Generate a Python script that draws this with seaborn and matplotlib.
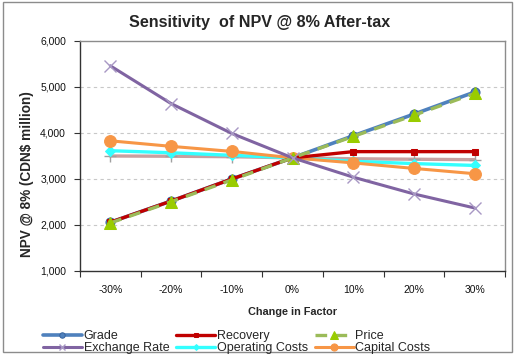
import matplotlib
matplotlib.use("Agg")
import matplotlib.pyplot as plt
import matplotlib.patches as mpatches
from matplotlib.ticker import FuncFormatter, FixedLocator
import seaborn as sns
import pandas as pd

sns.set_theme(style="white")
plt.rcParams['font.family'] = ['Liberation Sans', 'DejaVu Sans']

factors = ["-30%", "-20%", "-10%", "0%", "10%", "20%", "30%"]
grade = [2060, 2520, 3000, 3460, 3940, 4410, 4890]
recovery = [2060, 2520, 3000, 3460, 3595, 3595, 3595]
price = [2045, 2505, 2980, 3460, 3925, 4385, 4860]
exchange_rate = [5460, 4640, 3990, 3460, 3040, 2675, 2370]
operating_costs = [3615, 3570, 3515, 3460, 3385, 3335, 3295]
capital_costs = [3830, 3710, 3600, 3460, 3350, 3230, 3115]
other = [3500, 3495, 3485, 3460, 3440, 3430, 3420]

fig = plt.figure(figsize=(5.2, 3.56), dpi=100)
ax = fig.add_axes([80/520, 1-271/356, 425/520, 230/356])

series = [
    ("Grade", grade, dict(color="#4f81bd", lw=2.6, marker="o", ms=6.5, mfc="#4f81bd", mec="#3a66a0", zorder=3)),
    ("Recovery", recovery, dict(color="#c00000", lw=2.4, marker="s", ms=5, mfc="#c00000", mec="#c00000", zorder=4)),
    ("Price", price, dict(color="#9bbb59", lw=2.4, marker="^", ms=8.5, mfc="#99cc00", mec="#99cc00", dashes=(3.5, 2.5), zorder=5)),
    ("Exchange Rate", exchange_rate, dict(color="#8064a2", lw=2.2, marker="x", ms=8, mec="#a898c4", mew=1.0, zorder=6)),
    ("Operating Costs", operating_costs, dict(color="#33ffff", lw=2.4, marker="D", ms=5, mfc="#33ffff", mec="#33ffff", zorder=3)),
    ("Capital Costs", capital_costs, dict(color="#f79646", lw=2.2, marker="o", ms=8.5, mfc="#f79646", mec="#f79646", zorder=3)),
    ("_other", other, dict(color="#c9a0a0", lw=2.4, marker="+", ms=8, mec="#a0a0a0", mew=1.0, zorder=2)),
]

lines = {}
for name, vals, kw in series:
    df = pd.DataFrame({"factor": factors, "npv": vals})
    n_before = len(ax.lines)
    sns.lineplot(data=df, x="factor", y="npv", ax=ax, sort=False, label=name,
                 legend=False, **kw)
    lines[name] = ax.lines[n_before]

ax.set_xlim(-0.5, 6.5)
ax.set_ylim(1000, 6000)
ax.set_yticks([1000, 2000, 3000, 4000, 5000, 6000])
ax.yaxis.set_major_formatter(FuncFormatter(lambda v, p: f"{int(v):,}"))
ax.set_xticks(range(7))
ax.set_xticklabels(factors)
ax.xaxis.set_minor_locator(FixedLocator([i - 0.5 for i in range(8)]))
ax.tick_params(axis="x", which="major", length=0, labelsize=7.5, pad=10, colors="#111111")
ax.tick_params(axis="x", which="minor", length=4, width=0.8, color="#333333", direction="out", bottom=True)
ax.tick_params(axis="y", which="major", length=4, width=0.8, color="#333333", direction="out",
               left=True, labelsize=7.5, pad=6, labelcolor="#111111")

for y in [2000, 3000, 4000, 5000]:
    ax.axhline(y, color="#c8c8c8", lw=0.8, ls=(0, (3, 3)), zorder=0)

ax.spines["left"].set_color("#333333")
ax.spines["bottom"].set_color("#333333")
ax.spines["top"].set_color("#8c8c8c")
ax.spines["right"].set_color("#8c8c8c")
for s in ax.spines.values():
    s.set_linewidth(1.0)

ax.set_xlabel("Change in Factor", fontsize=7.8, fontweight="bold", labelpad=9)
ax.set_ylabel("NPV @ 8% (CDN$ million)", fontsize=9.8, fontweight="bold")
ax.yaxis.set_label_coords((34 - 80) / 425, (271 - 174) / 230)

fig.text(0.5, 1-22/356, "Sensitivity  of NPV @ 8% After-tax", ha="center", va="center",
         fontsize=11.6, fontweight="bold")

order = ["Grade", "Exchange Rate", "Recovery", "Operating Costs", "Price", "Capital Costs"]
handles = [lines[n] for n in order]
leg = fig.legend(handles, order, ncol=3, loc="center left", bbox_to_anchor=(43/520, 1-342/356),
                 frameon=False, fontsize=9, handlelength=3.1, handletextpad=0.15,
                 columnspacing=0.55, labelspacing=0.0, markerscale=0.6, borderpad=0,
                 borderaxespad=0)

fig.patches.append(mpatches.Rectangle((3/520, 1-352/356), 509/520, 350/356, transform=fig.transFigure,
                                      fill=False, edgecolor="#8c8c8c", lw=1.0))

fig.savefig("out.png", dpi=100)
